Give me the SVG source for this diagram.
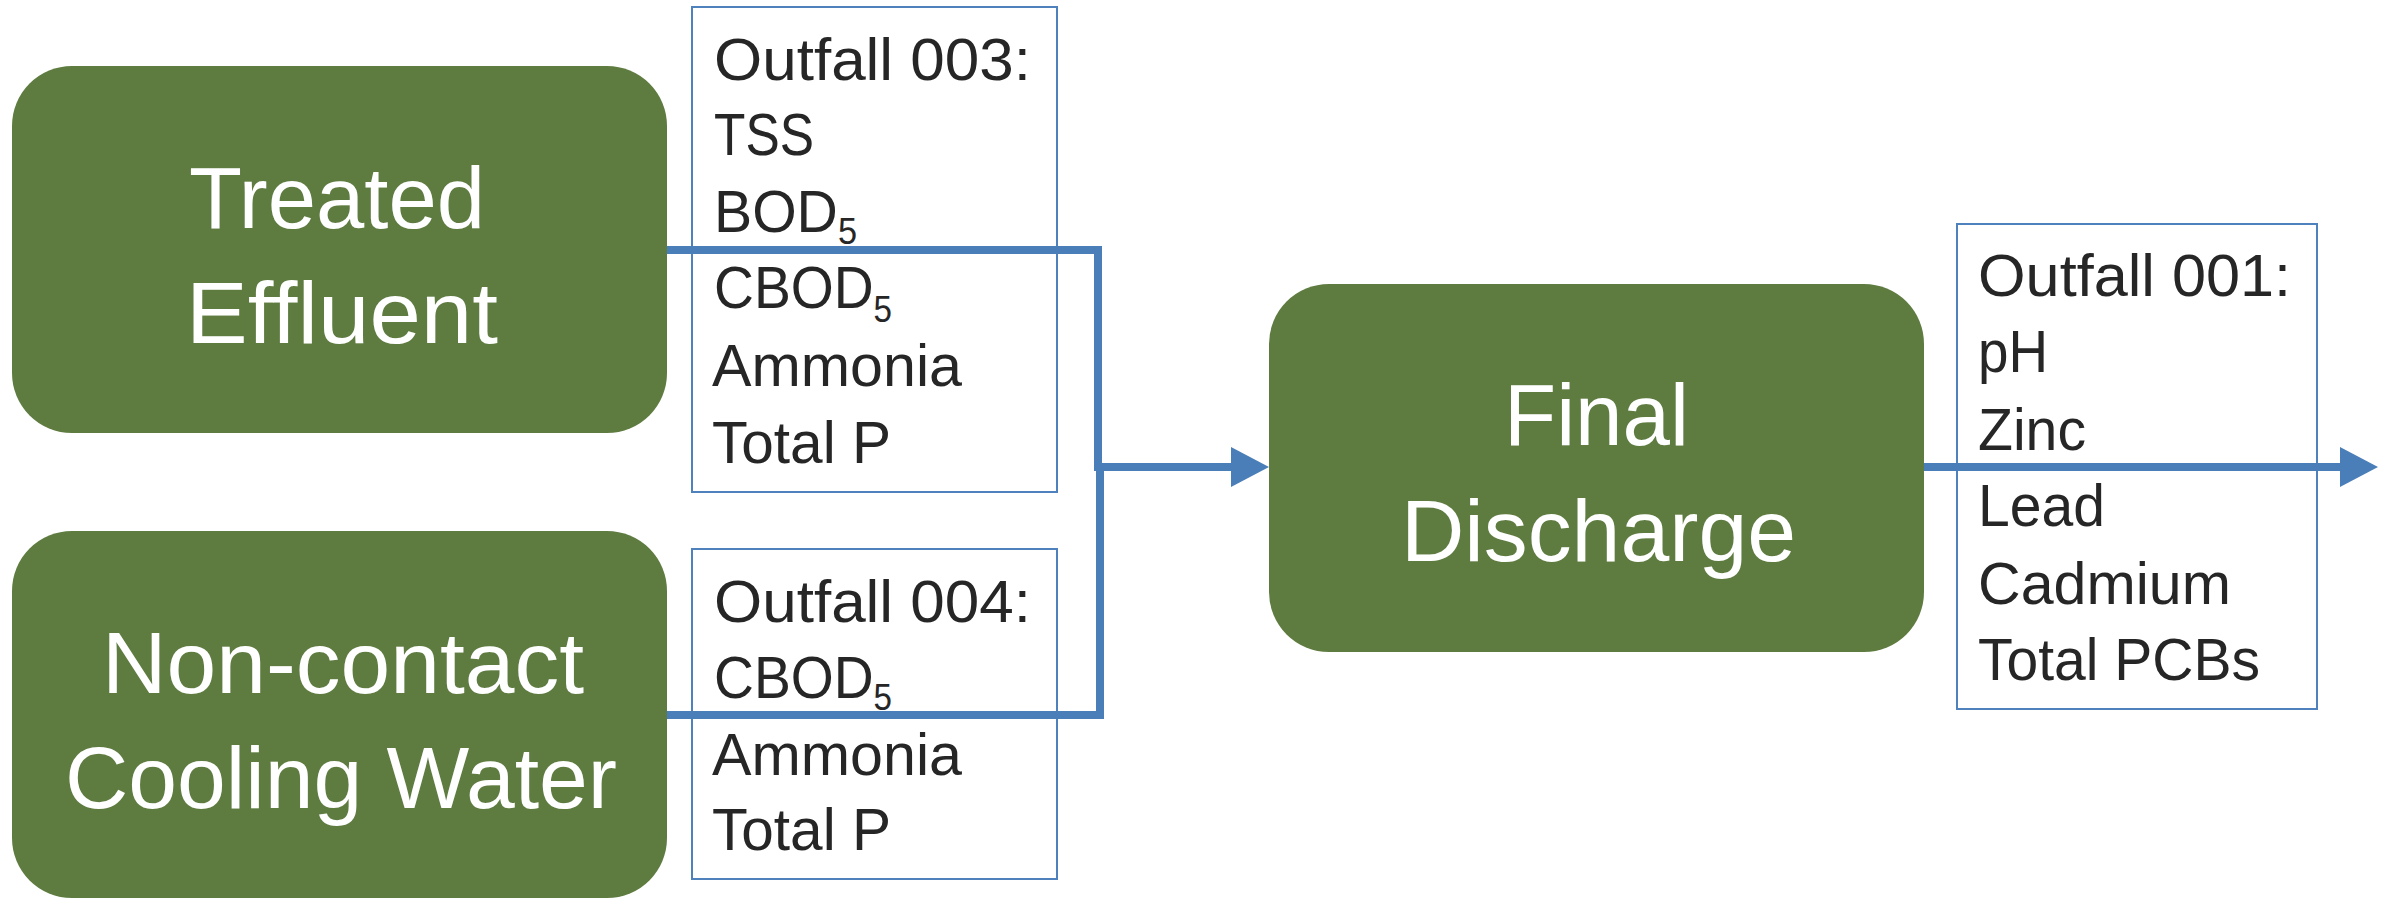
<svg xmlns="http://www.w3.org/2000/svg" width="2392" height="898" viewBox="0 0 2392 898">
  <style>
    .node { fill: #5e7b40; }
    .title { fill: #ffffff; font-family: "Liberation Sans", Arial, sans-serif; font-size: 88px; }
    .note { fill: #ffffff; stroke: #4f81bd; stroke-width: 2; }
    .item { fill: #262626; font-family: "Liberation Sans", Arial, sans-serif; font-size: 60px; }
    .sub { font-size: 36px; }
    .flow { fill: none; stroke: #4a7eb8; stroke-width: 8; }
  </style>
  <defs>
    <!-- arrowhead: base sits on the line end, tip 38px further on -->
    <marker id="arrow" viewBox="0 0 38 40" refX="0" refY="20" markerWidth="38" markerHeight="40" markerUnits="userSpaceOnUse" orient="auto" overflow="visible">
      <path d="M0,0 L38,20 L0,40 Z" fill="#4a7eb8"/>
    </marker>
  </defs>

  <rect width="2392" height="898" fill="#ffffff"/>

  <!-- process nodes -->
  <g id="treated-effluent">
    <rect class="node" x="12" y="66" width="655" height="367" rx="60" ry="60"/>
    <text class="title" x="189" y="228" textLength="296" lengthAdjust="spacingAndGlyphs">Treated</text>
    <text class="title" x="186" y="343" textLength="312" lengthAdjust="spacingAndGlyphs">Effluent</text>
  </g>

  <g id="cooling-water">
    <rect class="node" x="12" y="531" width="655" height="367" rx="60" ry="60"/>
    <text class="title" x="102" y="693" textLength="482" lengthAdjust="spacingAndGlyphs">Non-contact</text>
    <text class="title" x="65" y="808" textLength="552" lengthAdjust="spacingAndGlyphs">Cooling Water</text>
  </g>

  <g id="final-discharge">
    <rect class="node" x="1269" y="284" width="655" height="368" rx="60" ry="60"/>
    <text class="title" x="1504" y="445" textLength="185" lengthAdjust="spacingAndGlyphs">Final</text>
    <text class="title" x="1401" y="561" textLength="395" lengthAdjust="spacingAndGlyphs">Discharge</text>
  </g>

  <!-- parameter lists per outfall -->
  <g id="outfall-003">
    <rect class="note" x="692" y="7" width="365" height="485"/>
    <text class="item" x="714" y="80" textLength="317" lengthAdjust="spacingAndGlyphs">Outfall 003:</text>
    <text class="item" x="714" y="155" textLength="100" lengthAdjust="spacingAndGlyphs">TSS</text>
    <text class="item" x="714" y="232" textLength="143" lengthAdjust="spacingAndGlyphs">BOD<tspan class="sub" dy="12">5</tspan></text>
    <text class="item" x="714" y="308" textLength="178" lengthAdjust="spacingAndGlyphs">CBOD<tspan class="sub" dy="14">5</tspan></text>
    <text class="item" x="712" y="386" textLength="250" lengthAdjust="spacingAndGlyphs">Ammonia</text>
    <text class="item" x="712" y="463" textLength="179" lengthAdjust="spacingAndGlyphs">Total P</text>
  </g>

  <g id="outfall-004">
    <rect class="note" x="692" y="549" width="365" height="330"/>
    <text class="item" x="714" y="622" textLength="317" lengthAdjust="spacingAndGlyphs">Outfall 004:</text>
    <text class="item" x="714" y="698" textLength="178" lengthAdjust="spacingAndGlyphs">CBOD<tspan class="sub" dy="12">5</tspan></text>
    <text class="item" x="712" y="775" textLength="250" lengthAdjust="spacingAndGlyphs">Ammonia</text>
    <text class="item" x="712" y="850" textLength="179" lengthAdjust="spacingAndGlyphs">Total P</text>
  </g>

  <g id="outfall-001">
    <rect class="note" x="1957" y="224" width="360" height="485"/>
    <text class="item" x="1978" y="296" textLength="313" lengthAdjust="spacingAndGlyphs">Outfall 001:</text>
    <text class="item" x="1978" y="372" textLength="70" lengthAdjust="spacingAndGlyphs">pH</text>
    <text class="item" x="1978" y="450" textLength="108" lengthAdjust="spacingAndGlyphs">Zinc</text>
    <text class="item" x="1978" y="526" textLength="127" lengthAdjust="spacingAndGlyphs">Lead</text>
    <text class="item" x="1978" y="604" textLength="253" lengthAdjust="spacingAndGlyphs">Cadmium</text>
    <text class="item" x="1978" y="680" textLength="282" lengthAdjust="spacingAndGlyphs">Total PCBs</text>
  </g>

  <!-- flow connectors -->
  <g id="connectors">
    <polyline class="flow" points="667,250 1098,250 1098,467 1231,467" marker-end="url(#arrow)"/>
    <polyline class="flow" points="667,715 1100,715 1100,467"/>
    <line class="flow" x1="1924" y1="467" x2="2340" y2="467" marker-end="url(#arrow)"/>
  </g>
</svg>
